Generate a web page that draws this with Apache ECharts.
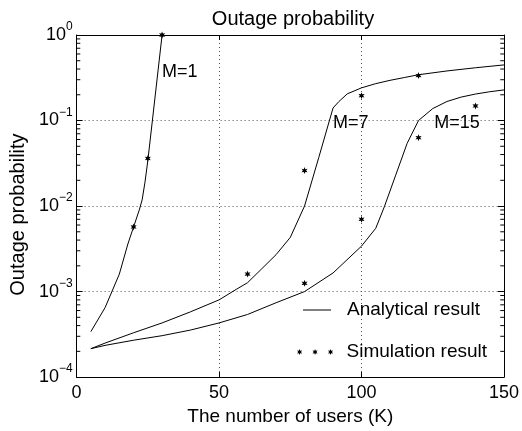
<!DOCTYPE html>
<html><head><meta charset="utf-8">
<script src="https://cdn.jsdelivr.net/npm/echarts@6/dist/echarts.min.js"></script>
<style>html,body{margin:0;padding:0;background:#fff}#c{width:522px;height:431px}</style>
</head><body><div id="c"></div>
<script>
// ---- data ----
const xTicks = [0, 50, 100, 150];
const yTicks = [1e-4, 1e-3, 1e-2, 1e-1, 1];
const yTickExponents = ['\u22124', '\u22123', '\u22122', '\u22121', '0'];
const minorMantissas = [2, 3, 4, 5, 6, 7, 8, 9];
const minorDecades = [1e-4, 1e-3, 1e-2, 1e-1];

// analytical curves: lower branch up to the knee, then upper branch
const m1LowX = [5, 10, 15, 18, 20, 22, 23, 24, 25];
const m1LowY = [3.4e-4, 6.5e-4, 1.6e-3, 3.6e-3, 5.7e-3, 9e-3, 0.0118, 0.019, 0.034];
const m1HighX = [25, 30];
const m1HighY = [0.034, 1];
const m7LowX = [5, 10, 20, 30, 40, 50, 56, 60, 65, 70, 75, 80, 85, 90];
const m7LowY = [2.15e-4, 2.5e-4, 3.3e-4, 4.3e-4, 5.8e-4, 8e-4, 1.06e-3, 1.27e-3, 1.85e-3, 2.7e-3, 4.3e-3, 0.01, 0.037, 0.14];
const m7HighX = [90, 92, 95, 100, 105, 110, 115, 120, 130, 140, 150];
const m7HighY = [0.14, 0.166, 0.205, 0.241, 0.27, 0.295, 0.318, 0.343, 0.38, 0.414, 0.447];
const m15LowX = [5, 10, 20, 30, 40, 50, 60, 70, 80, 90, 100, 105, 108, 112, 116, 120];
const m15LowY = [2.15e-4, 2.35e-4, 2.7e-4, 3.05e-4, 3.55e-4, 4.3e-4, 5.4e-4, 7.4e-4, 1e-3, 1.65e-3, 3.4e-3, 5.5e-3, 0.0098, 0.023, 0.054, 0.1];
const m15HighX = [120, 125, 130, 135, 140, 145, 150];
const m15HighY = [0.1, 0.138, 0.167, 0.188, 0.204, 0.217, 0.228];

// simulation points
const m1SimX = [20, 25, 30];
const m1SimY = [5.7e-3, 0.036, 1];
const m7SimX = [60, 80, 100, 120];
const m7SimY = [1.6e-3, 0.026, 0.195, 0.335];
const m15SimX = [80, 100, 120, 140];
const m15SimY = [1.25e-3, 7e-3, 0.063, 0.148];

const curveLabels = ['M=1', 'M=7', 'M=15'];
const curveLabelX = [30, 90, 125.5];
const curveLabelY = [0.365, 0.094, 0.094];

// ---- helpers ----
const FONT = '"Liberation Sans", Arial, Helvetica, sans-serif';
const TICK_UNITS = 1.3; // minor tick length, in x-axis units
const zip = (xs, ys) => xs.map((x, i) => [x, ys[i]]);
function starPath(cx, cy, R, r) {
  let d = '';
  for (let k = 0; k < 6; k++) {
    const ao = (-90 + 60 * k) * Math.PI / 180, ai = (-60 + 60 * k) * Math.PI / 180;
    d += (k === 0 ? 'M' : 'L') + (cx + R * Math.cos(ao)).toFixed(2) + ',' + (cy + R * Math.sin(ao)).toFixed(2);
    d += 'L' + (cx + r * Math.cos(ai)).toFixed(2) + ',' + (cy + r * Math.sin(ai)).toFixed(2);
  }
  return d + 'Z';
}
const STAR = 'path://' + starPath(5, 5, 5, 2.3);
const STAR3 = 'path://' + starPath(5, 5, 5, 2.3) + starPath(30.8, 5, 5, 2.3) + starPath(56.6, 5, 5, 2.3);
const xMin = xTicks[0], xMax = xTicks[xTicks.length - 1];
const minorSegs = [];
minorDecades.forEach(d => minorMantissas.forEach(m => {
  const v = m * d;
  minorSegs.push([xMin, v], [xMin + TICK_UNITS, v], [xMin, '-']);
  minorSegs.push([xMax - TICK_UNITS, v], [xMax, v], [xMax, '-']);
}));

function yLabel(v) {
  for (let i = 0; i < yTicks.length; i++) {
    if (Math.abs(Math.log10(v) - Math.log10(yTicks[i])) < 1e-6) return '{b|10}{s|' + yTickExponents[i] + '}';
  }
  return '';
}

const chart = echarts.init(document.getElementById('c'), null, {renderer: 'canvas'});
function curve(xs, ys) {
  return {name: 'Analytical result', type: 'line', data: zip(xs, ys), showSymbol: false, symbol: 'none',
    smooth: false, color: '#000', lineStyle: {color: '#000', width: 1}, z: 3, silent: true};
}
function sim(xs, ys) {
  return {name: 'Simulation result', type: 'scatter', data: zip(xs, ys), symbol: STAR, symbolSize: 7,
    symbolKeepAspect: true, color: '#000', itemStyle: {color: '#000', opacity: 1}, z: 4, clip: false, silent: true};
}

chart.setOption({
  animation: false,
  backgroundColor: '#fff',
  textStyle: {fontFamily: FONT, color: '#000'},
  title: {
    text: 'Outage probability', left: 288, top: 4, textAlign: 'center',
    textStyle: {fontFamily: FONT, fontSize: 20, fontWeight: 'normal', color: '#000'}
  },
  grid: {left: 69.5, right: 15.5, top: 35, bottom: 53, containLabel: false},
  legend: [
    {
      data: [{name: 'Analytical result', icon: 'path://M0,0H28V1H0Z'}],
      left: 303, top: 300, padding: 0, itemWidth: 28, itemHeight: 14, selectedMode: false,
      textStyle: {fontFamily: FONT, fontSize: 19, color: '#000', lineHeight: 20, padding: [0, 0, 0, 11]}
    },
    {
      data: [{name: 'Simulation result', icon: STAR3}],
      left: 297, top: 342, padding: 0, itemWidth: 37, itemHeight: 6, selectedMode: false,
      textStyle: {fontFamily: FONT, fontSize: 19, color: '#000', lineHeight: 20, padding: [0, 0, 0, 8]}
    }
  ],
  xAxis: [
    {
      type: 'value', min: xMin, max: xMax, interval: 50, position: 'bottom',
      name: 'The number of users (K)', nameLocation: 'middle', nameGap: 22,
      nameTextStyle: {fontFamily: FONT, fontSize: 19, color: '#000'},
      axisLine: {show: true, onZero: false, lineStyle: {color: '#000', width: 1}},
      axisTick: {show: true, inside: true, length: 5, lineStyle: {color: '#000'}},
      axisLabel: {fontFamily: FONT, fontSize: 18, color: '#000', margin: 7},
      splitLine: {show: true, lineStyle: {color: '#555', type: [1, 3], width: 1}}
    },
    {
      type: 'value', min: xMin, max: xMax, interval: 50, position: 'top',
      axisLine: {show: true, onZero: false, lineStyle: {color: '#000', width: 1}},
      axisTick: {show: true, inside: true, length: 5, lineStyle: {color: '#000'}},
      axisLabel: {show: false}, splitLine: {show: false}
    }
  ],
  yAxis: [
    {
      type: 'log', logBase: 10, min: yTicks[0], max: yTicks[yTicks.length - 1], position: 'left',
      name: 'Outage probability', nameLocation: 'middle', nameGap: 41, nameRotate: 90,
      nameTextStyle: {fontFamily: FONT, fontSize: 20, color: '#000', padding: [0, 17, 0, 0]},
      axisLine: {show: true, onZero: false, lineStyle: {color: '#000', width: 1}},
      axisTick: {show: true, inside: true, length: 6, lineStyle: {color: '#000'}},
      axisLabel: {
        margin: 4, formatter: yLabel,
        rich: {
          b: {fontFamily: FONT, fontSize: 18, lineHeight: 18, color: '#000', verticalAlign: 'bottom'},
          s: {fontFamily: FONT, fontSize: 12, lineHeight: 12, color: '#000', verticalAlign: 'bottom', padding: [0, 0, 11, 0]}
        }
      },
      splitLine: {show: true, lineStyle: {color: '#555', type: [1, 3], width: 1}}
    },
    {
      type: 'log', logBase: 10, min: yTicks[0], max: yTicks[yTicks.length - 1], position: 'right',
      axisLine: {show: true, onZero: false, lineStyle: {color: '#000', width: 1}},
      axisTick: {show: true, inside: true, length: 6, lineStyle: {color: '#000'}},
      axisLabel: {show: false}, splitLine: {show: false}
    }
  ],
  series: [
    curve(m1LowX, m1LowY), curve(m1HighX, m1HighY),
    curve(m7LowX, m7LowY), curve(m7HighX, m7HighY),
    curve(m15LowX, m15LowY), curve(m15HighX, m15HighY),
    sim(m1SimX, m1SimY), sim(m7SimX, m7SimY), sim(m15SimX, m15SimY),
    {
      name: 'curve labels', type: 'scatter', symbolSize: 0, silent: true, z: 5,
      itemStyle: {opacity: 1},
      data: curveLabels.map((t, i) => ({value: [curveLabelX[i], curveLabelY[i]], name: t})),
      label: {show: true, position: 'right', distance: 0, formatter: p => p.name,
        fontFamily: FONT, fontSize: 18, color: '#000', textBorderWidth: 0, opacity: 1}
    },
    {
      name: 'minor ticks', type: 'line', data: minorSegs, showSymbol: false, symbol: 'none',
      connectNulls: false, color: '#000', lineStyle: {color: '#000', width: 1}, z: 10, clip: false, silent: true
    }
  ]
});
</script></body></html>
